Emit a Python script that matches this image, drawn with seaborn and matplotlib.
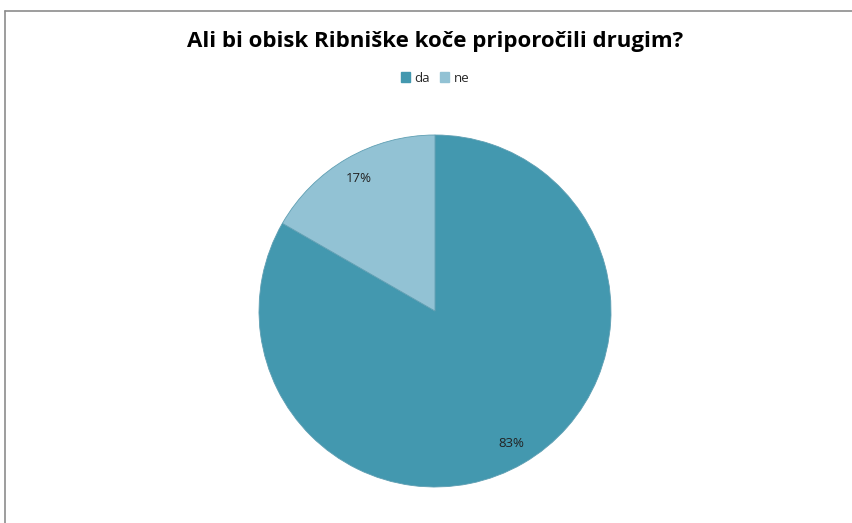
import numpy as np
import pandas as pd
import seaborn as sns
from matplotlib import pyplot as plt
from matplotlib.patches import Patch
from matplotlib.lines import Line2D

# data
answers = ['da', 'ne']
shares = [83.3, 16.7]
colors = ['#4398AF', '#92C2D4']

title = 'Ali bi obisk Ribniške koče priporočili drugim?'

sns.set_theme(style='white')
plt.rcParams['font.family'] = ['Open Sans', 'DejaVu Sans']

W, H = 852, 523
fig = plt.figure(figsize=(W / 100, H / 100), dpi=100)

# pie centre and radius in pixels
cx, cy, r = 435, 311, 176
ax = fig.add_axes([(cx - r) / W, (H - cy - r) / H, 2 * r / W, 2 * r / H])

df = pd.DataFrame({'answer': answers, 'share': shares})
wedges, texts, autotexts = ax.pie(df['share'], colors=colors, startangle=90, counterclock=False,
                                  autopct='%1.0f%%', pctdistance=0.87,
                                  wedgeprops={'edgecolor': '#5f9fb3', 'linewidth': 0.6},
                                  textprops={'fontsize': 9.5, 'color': '#222222'})
ax.set_xlim(-1, 1)
ax.set_ylim(-1, 1)
ax.set_aspect('equal')
ax.axis('off')
for w in wedges:
    w.set_clip_on(False)

fig.text(cx / W, 1 - 42 / H, title, ha='center', va='center', fontsize=16, fontweight='bold', color='black')

handles = [Patch(facecolor=c, edgecolor=c, label=a) for a, c in zip(answers, colors)]
fig.legend(handles=handles, loc='center', bbox_to_anchor=(cx / W, 1 - 78 / H), ncol=2, frameon=False,
           fontsize=9.5, handlelength=0.7, handleheight=0.7, handletextpad=0.3, columnspacing=0.8)

# outer chart frame, running past the right and bottom edges
fig.add_artist(Line2D([5 / W, 1.01], [1 - 11 / H, 1 - 11 / H], transform=fig.transFigure, color='#8c8c8c', lw=1.2))
fig.add_artist(Line2D([5 / W, 5 / W], [1 - 11 / H, -0.01], transform=fig.transFigure, color='#8c8c8c', lw=1.2))

fig.savefig('out.png', dpi=100)
